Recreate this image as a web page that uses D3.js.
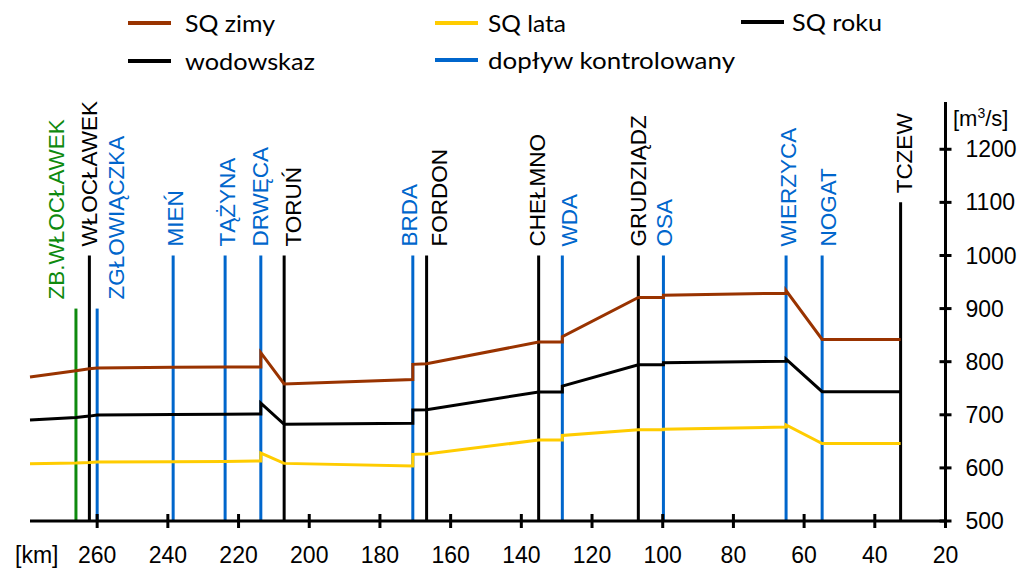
<!DOCTYPE html>
<html>
<head>
<meta charset="utf-8">
<script src="https://cdn.jsdelivr.net/npm/d3@7"></script>
<style>
  html, body { margin: 0; padding: 0; background: #fff; }
  svg { display: block; }
</style>
</head>
<body>
<svg id="chart" width="1024" height="568"></svg>
<script>
// Gauges, reservoir and controlled tributaries along the river (km from the mouth)
const stationNames = ["ZB.WŁOCŁAWEK", "WŁOCŁAWEK", "ZGŁOWIĄCZKA", "MIEŃ", "TĄŻYNA", "DRWĘCA", "TORUŃ",
  "BRDA", "FORDON", "CHEŁMNO", "WDA", "GRUDZIĄDZ", "OSA", "WIERZYCA", "NOGAT", "TCZEW"];
const stationKm = [266.0, 262.2, 260.0, 238.5, 223.8, 213.7, 207.1,
  170.7, 166.8, 135.1, 128.4, 106.9, 99.8, 65.1, 54.9, 32.7];
const stationTop = [900, 1000, 900, 1000, 1000, 1000, 1000,
  1000, 1000, 1000, 1000, 1000, 1000, 1000, 1000, 1100];
const stationType = ["zbiornik", "wodowskaz", "dopływ", "dopływ", "dopływ", "dopływ", "wodowskaz",
  "dopływ", "wodowskaz", "wodowskaz", "dopływ", "wodowskaz", "dopływ", "dopływ", "dopływ", "wodowskaz"];

// Mean flow profiles; repeated km = value just above / just below a junction
const profileKm = [279, 266.0, 262.2, 260.0, 238.5, 223.8, 213.7, 213.7, 207.1,
  170.7, 170.7, 166.8, 135.1, 128.4, 128.4, 106.9, 99.8, 99.8, 65.1, 65.1, 54.9, 32.7];
const sqZimy = [771, 783, 786.5, 788, 789.5, 790, 790, 817, 758,
  766.5, 795, 796, 837, 837, 847, 921, 921, 925, 929, 934, 842, 842];
const sqLata = [608, 609, 610, 611, 611.5, 612, 613, 628, 608.5,
  603.5, 625.5, 626, 652.5, 652.5, 661, 672, 672, 673, 677, 681, 646, 646];
const sqRoku = [690, 695, 697.5, 699.5, 700.5, 701, 701.5, 722, 682,
  684, 709, 709.5, 743, 743, 754, 794, 794, 798, 801, 805, 743.5, 743.5];

const kmTicks = [260, 240, 220, 200, 180, 160, 140, 120, 100, 80, 60, 40, 20];
const qTicks = [500, 600, 700, 800, 900, 1000, 1100, 1200];

const legendNames = ["SQ zimy", "SQ lata", "SQ roku", "wodowskaz", "dopływ kontrolowany"];

// ---- drawing ----
const colors = {
  zimy: "#993300", lata: "#FFCC00", roku: "#000000",
  wodowskaz: "#000000", "dopływ": "#0066CC", zbiornik: "#0E8A0E"
};
const FONT = "'Liberation Sans', Arial, sans-serif";

const svg = d3.select("#chart");
const x = d3.scaleLinear().domain([279, 20]).range([30, 945.5]);
const y = d3.scaleLinear().domain([500, 1289]).range([521, 102]);

// vertical station markers
const stations = stationNames.map((name, i) => ({
  name, km: stationKm[i], top: stationTop[i], type: stationType[i]
}));
// horizontal nudges of labels so neighbouring names do not collide
const labelShift = {
  "ZB.WŁOCŁAWEK": -19.5, "WŁOCŁAWEK": 0, "ZGŁOWIĄCZKA": 19, "MIEŃ": 2, "TĄŻYNA": 1.5,
  "DRWĘCA": -1, "TORUŃ": 9, "BRDA": -3.5, "FORDON": 12.5, "CHEŁMNO": -1.5, "WDA": 7,
  "GRUDZIĄDZ": 0, "OSA": 1, "WIERZYCA": 2, "NOGAT": 5.5, "TCZEW": 3
};

svg.append("g").selectAll("line").data(stations).join("line")
  .attr("x1", d => x(d.km)).attr("x2", d => x(d.km))
  .attr("y1", y(500)).attr("y2", d => y(d.top))
  .attr("stroke", d => colors[d.type]).attr("stroke-width", 3);

svg.append("g").selectAll("text").data(stations).join("text")
  .attr("transform", d => `translate(${x(d.km) + labelShift[d.name] + 8},${y(d.top) - 9}) rotate(-90)`)
  .attr("fill", d => colors[d.type])
  .attr("font-family", FONT).attr("font-size", 22.5)
  .text(d => d.name);

// flow profiles
const line = d3.line().x(d => x(d[0])).y(d => y(d[1]));
[[sqRoku, colors.roku], [sqLata, colors.lata], [sqZimy, colors.zimy]].forEach(([vals, c]) => {
  svg.append("path")
    .datum(profileKm.map((k, i) => [k, vals[i]]))
    .attr("d", line).attr("fill", "none")
    .attr("stroke", c).attr("stroke-width", 3).attr("stroke-linejoin", "miter");
});

// x axis (km)
const gx = svg.append("g").attr("transform", `translate(0,${y(500)})`);
gx.append("line").attr("x1", x(279)).attr("x2", x(20)).attr("stroke", "#000").attr("stroke-width", 3);
gx.selectAll(".tk").data(kmTicks).join("line").attr("class", "tk")
  .attr("x1", d => x(d)).attr("x2", d => x(d)).attr("y1", -7).attr("y2", 7)
  .attr("stroke", "#000").attr("stroke-width", 3);
gx.selectAll(".tl").data(kmTicks).join("text").attr("class", "tl")
  .attr("x", d => x(d)).attr("y", 42).attr("text-anchor", "middle")
  .attr("font-family", FONT).attr("font-size", 23).attr("fill", "#000")
  .text(d => d);
svg.append("text").attr("x", 15).attr("y", 563)
  .attr("font-family", FONT).attr("font-size", 23).attr("fill", "#000").text("[km]");

// y axis (m³/s) on the right
const gy = svg.append("g").attr("transform", `translate(${x(20)},0)`);
gy.append("line").attr("y1", y(500) + 1.5).attr("y2", y(1289)).attr("stroke", "#000").attr("stroke-width", 3);
gy.selectAll(".tk").data(qTicks).join("line").attr("class", "tk")
  .attr("y1", d => y(d)).attr("y2", d => y(d)).attr("x1", -6).attr("x2", 6)
  .attr("stroke", "#000").attr("stroke-width", 3);
gy.selectAll(".tl").data(qTicks).join("text").attr("class", "tl")
  .attr("x", 20).attr("y", d => y(d)).attr("dy", "0.35em")
  .attr("font-family", FONT).attr("font-size", 23).attr("fill", "#000")
  .text(d => d);
const unit = svg.append("text").attr("x", 953).attr("y", 126)
  .attr("font-family", FONT).attr("font-size", 22).attr("fill", "#000");
unit.append("tspan").text("[m");
unit.append("tspan").attr("font-size", 14).attr("dy", -8).text("3");
unit.append("tspan").attr("dy", 8).text("/s]");

// legend: swatch start, text start, row centre and text width per entry
const legendColors = [colors.zimy, colors.lata, colors.roku, colors.wodowskaz, colors["dopływ"]];
const legendLayout = [
  { lx: 128, tx: 185, y: 23, w: 90 },
  { lx: 435, tx: 488, y: 23, w: 78 },
  { lx: 741, tx: 792, y: 22, w: 90 },
  { lx: 128, tx: 185, y: 61, w: 130 },
  { lx: 435, tx: 488, y: 60, w: 247 }
];
const lg = svg.append("g").selectAll("g").data(legendNames).join("g")
  .attr("transform", (d, i) => `translate(0,${legendLayout[i].y})`);
lg.append("line").attr("x1", (d, i) => legendLayout[i].lx).attr("x2", (d, i) => legendLayout[i].lx + 43)
  .attr("stroke", (d, i) => legendColors[i]).attr("stroke-width", 4);
lg.append("text").attr("x", (d, i) => legendLayout[i].tx).attr("y", 8.5)
  .attr("textLength", (d, i) => legendLayout[i].w).attr("lengthAdjust", "spacingAndGlyphs")
  .attr("font-family", "Lato, 'Open Sans', sans-serif").attr("font-size", 23.5).attr("fill", "#000")
  .text(d => d);
</script>
</body>
</html>
